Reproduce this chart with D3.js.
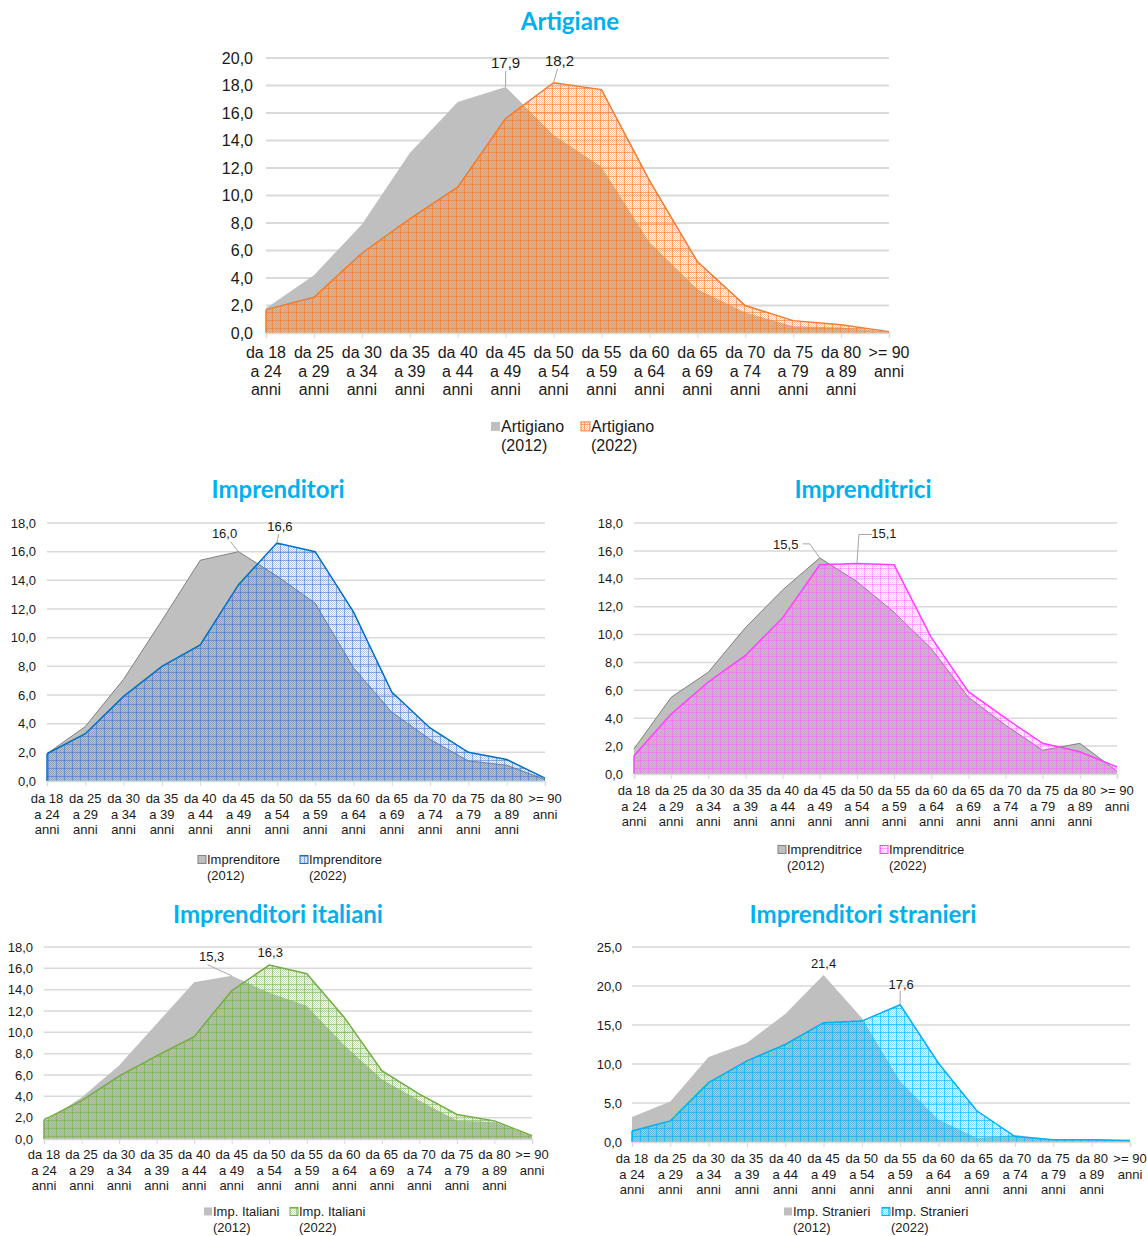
<!DOCTYPE html>
<html><head><meta charset="utf-8">
<script src="https://cdn.jsdelivr.net/npm/d3@7"></script>
<style>
body{margin:0;background:#fff;}
svg text{font-family:"Liberation Sans",Arial,sans-serif;fill:#1a1a1a;}
svg text.title{font-family:Lato,"Open Sans",sans-serif;font-weight:700;fill:#00b0f0;}
</style></head>
<body>
<svg id="chart" width="1147" height="1236"></svg>
<script>
// ---- data ----
const categories = ["da 18\na 24\nanni","da 25\na 29\nanni","da 30\na 34\nanni","da 35\na 39\nanni","da 40\na 44\nanni","da 45\na 49\nanni","da 50\na 54\nanni","da 55\na 59\nanni","da 60\na 64\nanni","da 65\na 69\nanni","da 70\na 74\nanni","da 75\na 79\nanni","da 80\na 89\nanni",">= 90\nanni"];

const artigiano2012 = [1.8,4.2,7.9,13.1,16.8,17.9,14.4,12.1,6.6,3.2,1.5,0.5,0.4,0.1];
const artigiano2022 = [1.7,2.6,5.8,8.3,10.6,15.6,18.2,17.7,11.1,5.2,2.0,0.9,0.6,0.1];

const imprenditore2012 = [1.9,3.8,7.1,11.2,15.4,16.0,14.3,12.4,7.9,4.8,2.9,1.4,1.1,0.1];
const imprenditore2022 = [1.9,3.3,5.9,8.0,9.5,13.7,16.6,16.0,11.8,6.2,3.7,2.0,1.5,0.2];

const imprenditrice2012 = [1.8,5.5,7.3,10.5,13.2,15.5,13.8,11.6,9.0,5.5,3.5,1.7,2.2,0.2];
const imprenditrice2022 = [1.3,4.3,6.6,8.5,11.2,15.0,15.1,15.0,9.8,5.9,4.0,2.2,1.6,0.5];

const italiani2012 = [1.6,3.9,6.9,10.8,14.7,15.3,13.7,12.5,8.8,5.6,3.6,1.7,1.6,0.2];
const italiani2022 = [1.8,3.6,5.9,7.8,9.6,13.9,16.3,15.5,11.4,6.4,4.2,2.3,1.7,0.3];

const stranieri2012 = [3.2,5.2,10.9,12.7,16.4,21.4,15.9,7.8,2.9,0.5,0.9,0.3,0.4,0.2];
const stranieri2022 = [1.4,2.7,7.6,10.4,12.5,15.3,15.5,17.6,10.1,4.0,0.7,0.3,0.3,0.2];

const ticks20 = [0,2,4,6,8,10,12,14,16,18,20];
const ticks18 = [0,2,4,6,8,10,12,14,16,18];
const ticks25 = [0,5,10,15,20,25];

const titles = ["Artigiane","Imprenditori","Imprenditrici","Imprenditori italiani","Imprenditori stranieri"];
const legendNames = [["Artigiano","Artigiano"],["Imprenditore","Imprenditore"],["Imprenditrice","Imprenditrice"],["Imp. Italiani","Imp. Italiani"],["Imp. Stranieri","Imp. Stranieri"]];
const years = ["(2012)","(2022)"];

// ---- drawing ----
const svg = d3.select("#chart");
const defs = svg.append("defs");
const fmt = v => d3.format(".1f")(v).replace(".", ",");

function makePattern(id, color, op){
  const p = defs.append("pattern").attr("id", id).attr("width", 8).attr("height", 8)
    .attr("patternUnits", "userSpaceOnUse");
  for (let i = 0; i < 8; i++) for (let j = 0; j < 8; j++) {
    if ((i + j) % 2 === 0) p.append("rect").attr("x", i).attr("y", j).attr("width", 1).attr("height", 1)
      .attr("fill", color).attr("fill-opacity", op[0]);
  }
  p.append("rect").attr("x", 0).attr("y", 0).attr("width", 8).attr("height", 1).attr("fill", color).attr("fill-opacity", op[1]);
  p.append("rect").attr("x", 0).attr("y", 0).attr("width", 1).attr("height", 8).attr("fill", color).attr("fill-opacity", op[1]);
}

function drawChart(cfg){
  const g = svg.append("g");
  const n = categories.length;
  const x = d3.scalePoint().domain(d3.range(n)).range([cfg.x0, cfg.x1]);
  const y = d3.scaleLinear().domain([0, cfg.yMax]).range([cfg.y0, cfg.yTop]);
  makePattern(cfg.pid, cfg.fill, cfg.op);

  g.append("text").attr("class", "title").attr("x", cfg.titleX).attr("y", cfg.titleY)
    .attr("text-anchor", "middle").style("font-size", cfg.titleSize + "px").text(cfg.title);

  g.append("g").selectAll("line").data(cfg.ticks.filter(t => t > 0)).join("line")
    .attr("x1", cfg.x0).attr("x2", cfg.x1).attr("y1", d => y(d)).attr("y2", d => y(d))
    .attr("stroke", "#d9d9d9").attr("stroke-width", cfg.gridW);

  const ya = g.append("g").attr("transform", `translate(${cfg.x0},0)`)
    .call(d3.axisLeft(y).tickValues(cfg.ticks).tickFormat(fmt).tickSize(0).tickPadding(cfg.yPad));
  ya.select(".domain").remove();
  ya.selectAll("text").style("font-size", cfg.fs + "px").attr("fill", "#1a1a1a")
    .style("font-family", '"Liberation Sans",Arial,sans-serif');

  const area = d3.area().x((d, i) => x(i)).y0(cfg.y0).y1(d => y(d));
  const line = d3.line().x((d, i) => x(i)).y(d => y(d));
  g.append("path").datum(cfg.s2012).attr("d", area).attr("fill", "#bfbfbf");
  if (cfg.grayStroke) g.append("path").datum(cfg.s2012).attr("d", line).attr("fill", "none")
    .attr("stroke", "#808080").attr("stroke-width", 1);
  g.append("path").datum(cfg.s2022).attr("d", area).attr("fill", `url(#${cfg.pid})`);
  g.append("path").datum(cfg.s2022).attr("d", line).attr("fill", "none")
    .attr("stroke", cfg.stroke).attr("stroke-width", 1.5);
  g.append("line").attr("x1", cfg.x0).attr("x2", cfg.x0).attr("y1", cfg.y0).attr("y2", y(cfg.s2022[0]))
    .attr("stroke", cfg.stroke).attr("stroke-width", 1.5);

  const xa = g.append("g").attr("transform", `translate(0,${cfg.y0})`)
    .call(d3.axisBottom(x).tickSize(5).tickFormat(""));
  xa.select(".domain").attr("stroke", "#d9d9d9").attr("stroke-width", 1.5);
  xa.selectAll(".tick line").attr("stroke", "#d9d9d9").attr("stroke-width", 1);
  const lab = g.append("g").selectAll("text").data(categories).join("text")
    .attr("x", (d, i) => x(i)).attr("y", cfg.y0 + cfg.xlOff)
    .attr("text-anchor", "middle").style("font-size", cfg.fs + "px");
  lab.each(function(d){
    const t = d3.select(this);
    const x0 = t.attr("x");
    d.split("\n").forEach((s, k) => t.append("tspan").attr("x", x0).attr("dy", k === 0 ? 0 : cfg.lh).text(s));
  });

  cfg.annots.forEach(a => {
    const s = a.series === 2012 ? cfg.s2012 : cfg.s2022;
    const px = x(a.i), py = y(s[a.i]);
    if (a.leader) {
      const pts = a.leader.map(p => [px + p[0], py + p[1]]);
      pts.push([px, py]);
      g.append("path").attr("d", d3.line()(pts)).attr("fill", "none").attr("stroke", "#a6a6a6").attr("stroke-width", 1);
    }
    g.append("text").attr("x", px + a.dx).attr("y", py + a.dy).attr("text-anchor", "middle")
      .style("font-size", cfg.lfs + "px").text(fmt(s[a.i]));
  });

  const L = cfg.legend;
  const ms = cfg.fs === 16 ? 9 : 8;
  g.append("rect").attr("x", L.x1).attr("y", L.y - ms / 2 - cfg.fs * 0.35).attr("width", ms).attr("height", ms)
    .attr("fill", "#bfbfbf").attr("stroke", cfg.grayStroke ? "#808080" : "none");
  g.append("rect").attr("x", L.x2).attr("y", L.y - ms / 2 - cfg.fs * 0.35).attr("width", ms).attr("height", ms)
    .attr("fill", `url(#${cfg.pid})`).attr("stroke", cfg.stroke).attr("stroke-width", 1);
  [[L.x1, 0], [L.x2, 1]].forEach(([lx, k]) => {
    g.append("text").attr("x", lx + ms + 1).attr("y", L.y).style("font-size", cfg.fs + "px").text(cfg.legendNames[k]);
    g.append("text").attr("x", lx + ms + 1).attr("y", L.y + cfg.lh).style("font-size", cfg.fs + "px").text(years[k]);
  });
}

drawChart({
  title: titles[0], titleX: 570, titleY: 30, titleSize: 24,
  x0: 266, x1: 889, y0: 333, yTop: 58, yMax: 20, ticks: ticks20, yPad: 13, gridW: 2,
  fs: 16, lfs: 15, lh: 18.5, xlOff: 25,
  s2012: artigiano2012, s2022: artigiano2022, fill: "#ed7d31", stroke: "#ed7d31", pid: "pOr", op: [0.45, 0.6], grayStroke: false,
  legendNames: legendNames[0], legend: { x1: 491, x2: 581, y: 432 },
  annots: [
    { series: 2012, i: 5, dx: 0, dy: -19, leader: [[0, -16]] },
    { series: 2022, i: 6, dx: 6, dy: -17, leader: [[4, -14]] }
  ]
});

drawChart({
  title: titles[1], titleX: 278, titleY: 498, titleSize: 24,
  x0: 47, x1: 545, y0: 781, yTop: 523, yMax: 18, ticks: ticks18, yPad: 11, gridW: 1.5,
  fs: 13, lfs: 13, lh: 15.5, xlOff: 22,
  s2012: imprenditore2012, s2022: imprenditore2022, fill: "#4472c4", stroke: "#0070c0", pid: "pBl", op: [0.4, 0.55], grayStroke: true,
  legendNames: legendNames[1], legend: { x1: 198, x2: 300, y: 864 },
  annots: [
    { series: 2012, i: 5, dx: -14, dy: -14, leader: [[-8, -10]] },
    { series: 2022, i: 6, dx: 3, dy: -12, leader: [[2, -9]] }
  ]
});

drawChart({
  title: titles[2], titleX: 863, titleY: 498, titleSize: 24,
  x0: 634, x1: 1117, y0: 774, yTop: 523, yMax: 18, ticks: ticks18, yPad: 11, gridW: 1.5,
  fs: 13, lfs: 13, lh: 15.5, xlOff: 21,
  s2012: imprenditrice2012, s2022: imprenditrice2022, fill: "#ff59ff", stroke: "#ff40ff", pid: "pPk", op: [0.3, 0.45], grayStroke: true,
  legendNames: legendNames[2], legend: { x1: 778, x2: 880, y: 854 },
  annots: [
    { series: 2012, i: 5, dx: -34, dy: -9, leader: [[-17, -14], [-10, -14]] },
    { series: 2022, i: 6, dx: 27, dy: -25, leader: [[15, -29], [2, -29]] }
  ]
});

drawChart({
  title: titles[3], titleX: 278, titleY: 923, titleSize: 24,
  x0: 44, x1: 532, y0: 1139, yTop: 947, yMax: 18, ticks: ticks18, yPad: 11, gridW: 1.5,
  fs: 13, lfs: 13, lh: 15.5, xlOff: 20,
  s2012: italiani2012, s2022: italiani2022, fill: "#70ad47", stroke: "#70ad47", pid: "pGr", op: [0.4, 0.55], grayStroke: false,
  legendNames: legendNames[3], legend: { x1: 204, x2: 290, y: 1216 },
  annots: [
    { series: 2012, i: 5, dx: -20, dy: -15, leader: [[-24, -11]] },
    { series: 2022, i: 6, dx: 1, dy: -8, leader: null }
  ]
});

drawChart({
  title: titles[4], titleX: 863, titleY: 923, titleSize: 24,
  x0: 632, x1: 1130, y0: 1142, yTop: 947, yMax: 25, ticks: ticks25, yPad: 10, gridW: 1.5,
  fs: 13, lfs: 13, lh: 15.5, xlOff: 21,
  s2012: stranieri2012, s2022: stranieri2022, fill: "#00b0f0", stroke: "#00b0f0", pid: "pCy", op: [0.45, 0.6], grayStroke: false,
  legendNames: legendNames[4], legend: { x1: 784, x2: 882, y: 1216 },
  annots: [
    { series: 2012, i: 5, dx: 0, dy: -7, leader: null },
    { series: 2022, i: 7, dx: 1, dy: -16, leader: [[0, -14]] }
  ]
});
</script>
</body></html>
